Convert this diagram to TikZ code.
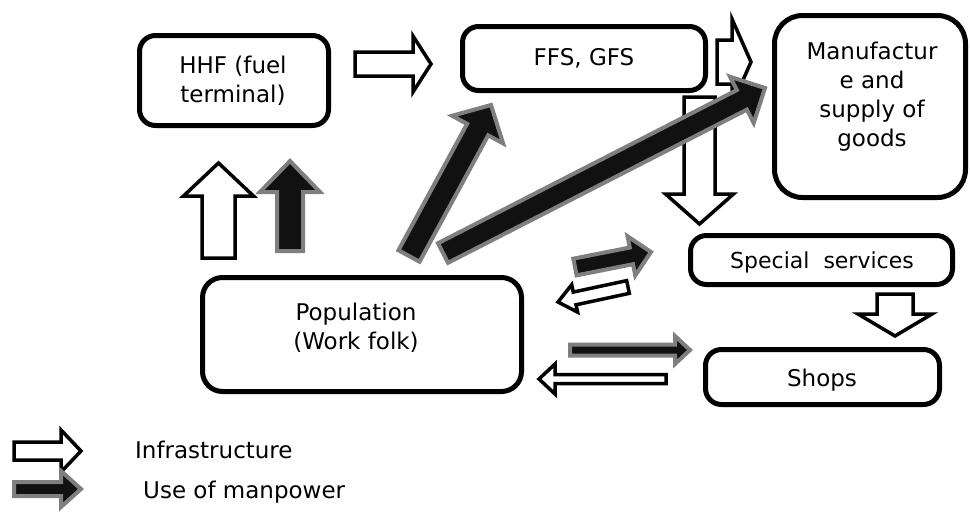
\documentclass[tikz,border=0pt]{standalone}
\usepackage{fontspec}
\setmainfont{DejaVu Sans}
\usetikzlibrary{calc}
\definecolor{mpfill}{HTML}{111111}
\definecolor{mpedge}{HTML}{7F7F7F}
\newcommand{\blockarrow}[6]{%
  \coordinate (ba-h) at ($(#3)!#6pt!(#2)$);
  \draw[#1] ($(#2)!#4pt!90:(#3)$) -- ($(ba-h)!#4pt!90:(#3)$) -- ($(ba-h)!#5pt!90:(#3)$) -- (#3)
    -- ($(ba-h)!#5pt!-90:(#3)$) -- ($(ba-h)!#4pt!-90:(#3)$) -- ($(#2)!#4pt!-90:(#3)$) -- cycle;
}
\tikzset{
  box/.style={draw=black, line width=5pt, rounded corners=16pt, fill=white, inner sep=0pt},
  txt/.style={align=center, font=\fontsize{23}{29}\selectfont, inner sep=0pt},
  infra/.style={draw=black, fill=white, line width=3.5pt, line join=miter},
  manp/.style={draw=mpedge, fill=mpfill, line width=4pt, line join=miter}
}
\begin{document}
\begin{tikzpicture}[x=1pt, y=-1pt]
\useasboundingbox (0,0) rectangle (970,512);
% boxes
\node[box, minimum width=189pt, minimum height=90pt] (hhf) at (234,80.5) {};
\node[txt] (hhft) at (233,81) {HHF (fuel\\terminal)};
\node[box, minimum width=243pt, minimum height=64pt] (ffs) at (584,58.5) {};
\node[txt] (ffst) at (584,58) {FFS, GFS};
\node[box, rounded corners=28pt, minimum width=191pt, minimum height=182pt] (manu) at (870,106.5) {};
\node[txt] (manut) at (872,97) {Manufactur\\e and\\supply of\\goods};
\node[box, minimum width=262pt, minimum height=49pt] (spec) at (821.5,260) {};
\node[txt, font=\fontsize{22}{28}\selectfont] (spect) at (822,262) {Special\ \ services};
\node[box, minimum width=234pt, minimum height=55pt] (shops) at (822.5,377) {};
\node[txt] (shopst) at (822,380) {Shops};
\node[box, rounded corners=20pt, minimum width=319pt, minimum height=114pt] (pop) at (362,334.5) {};
\node[txt] (popt) at (356,328) {Population\\(Work folk)};
% arrow end coordinates
\coordinate (a1) at (355,64);    \coordinate (b1) at (431,64);
\coordinate (a2) at (717,62);    \coordinate (b2) at (751,62);
\coordinate (a3) at (699.5,97);  \coordinate (b3) at (699.5,224);
\coordinate (a4) at (895,294);   \coordinate (b4) at (895,336);
\coordinate (a5) at (409,256);   \coordinate (b5) at (491,105);
\coordinate (a6) at (443,253);   \coordinate (b6) at (765,88);
\coordinate (a7) at (575,267);   \coordinate (b7) at (651,252);
\coordinate (a8) at (628,287);   \coordinate (b8) at (558,302);
\coordinate (a9) at (570,350);   \coordinate (b9) at (690,350);
\coordinate (a10) at (666,379);  \coordinate (b10) at (539,379);
\coordinate (a11) at (218.5,258); \coordinate (b11) at (218.5,163);
\coordinate (a12) at (290,251);  \coordinate (b12) at (290,161);
\coordinate (la) at (14,451);    \coordinate (lb) at (81,451);
\coordinate (lc) at (14,489);    \coordinate (ld) at (81,489);
% infrastructure arrows
\blockarrow{infra}{a1}{b1}{12}{28}{18}
\blockarrow{infra}{a2}{b2}{22}{43}{19}
\blockarrow{infra}{a3}{b3}{15.5}{34}{30}
\blockarrow{infra}{a4}{b4}{18}{37}{22}
\blockarrow{infra}{a8}{b8}{6.5}{14}{17}
\blockarrow{infra}{a10}{b10}{4.5}{15}{16}
\blockarrow{infra}{a11}{b11}{16.5}{35}{33}
% manpower arrows
\blockarrow{manp}{a5}{b5}{12}{29}{28}
\blockarrow{manp}{a6}{b6}{11}{26}{26}
\blockarrow{manp}{a7}{b7}{8.5}{20}{20}
\blockarrow{manp}{a9}{b9}{5.5}{14}{15}
\blockarrow{manp}{a12}{b12}{13}{30}{31}
% legend
\blockarrow{infra}{la}{lb}{9}{21}{20}
\blockarrow{manp}{lc}{ld}{7}{18}{20}
\node[txt, anchor=west] (leg1) at (135,450) {Infrastructure};
\node[txt, anchor=west] (leg2) at (143,492) {Use of manpower};
\end{tikzpicture}
\end{document}
